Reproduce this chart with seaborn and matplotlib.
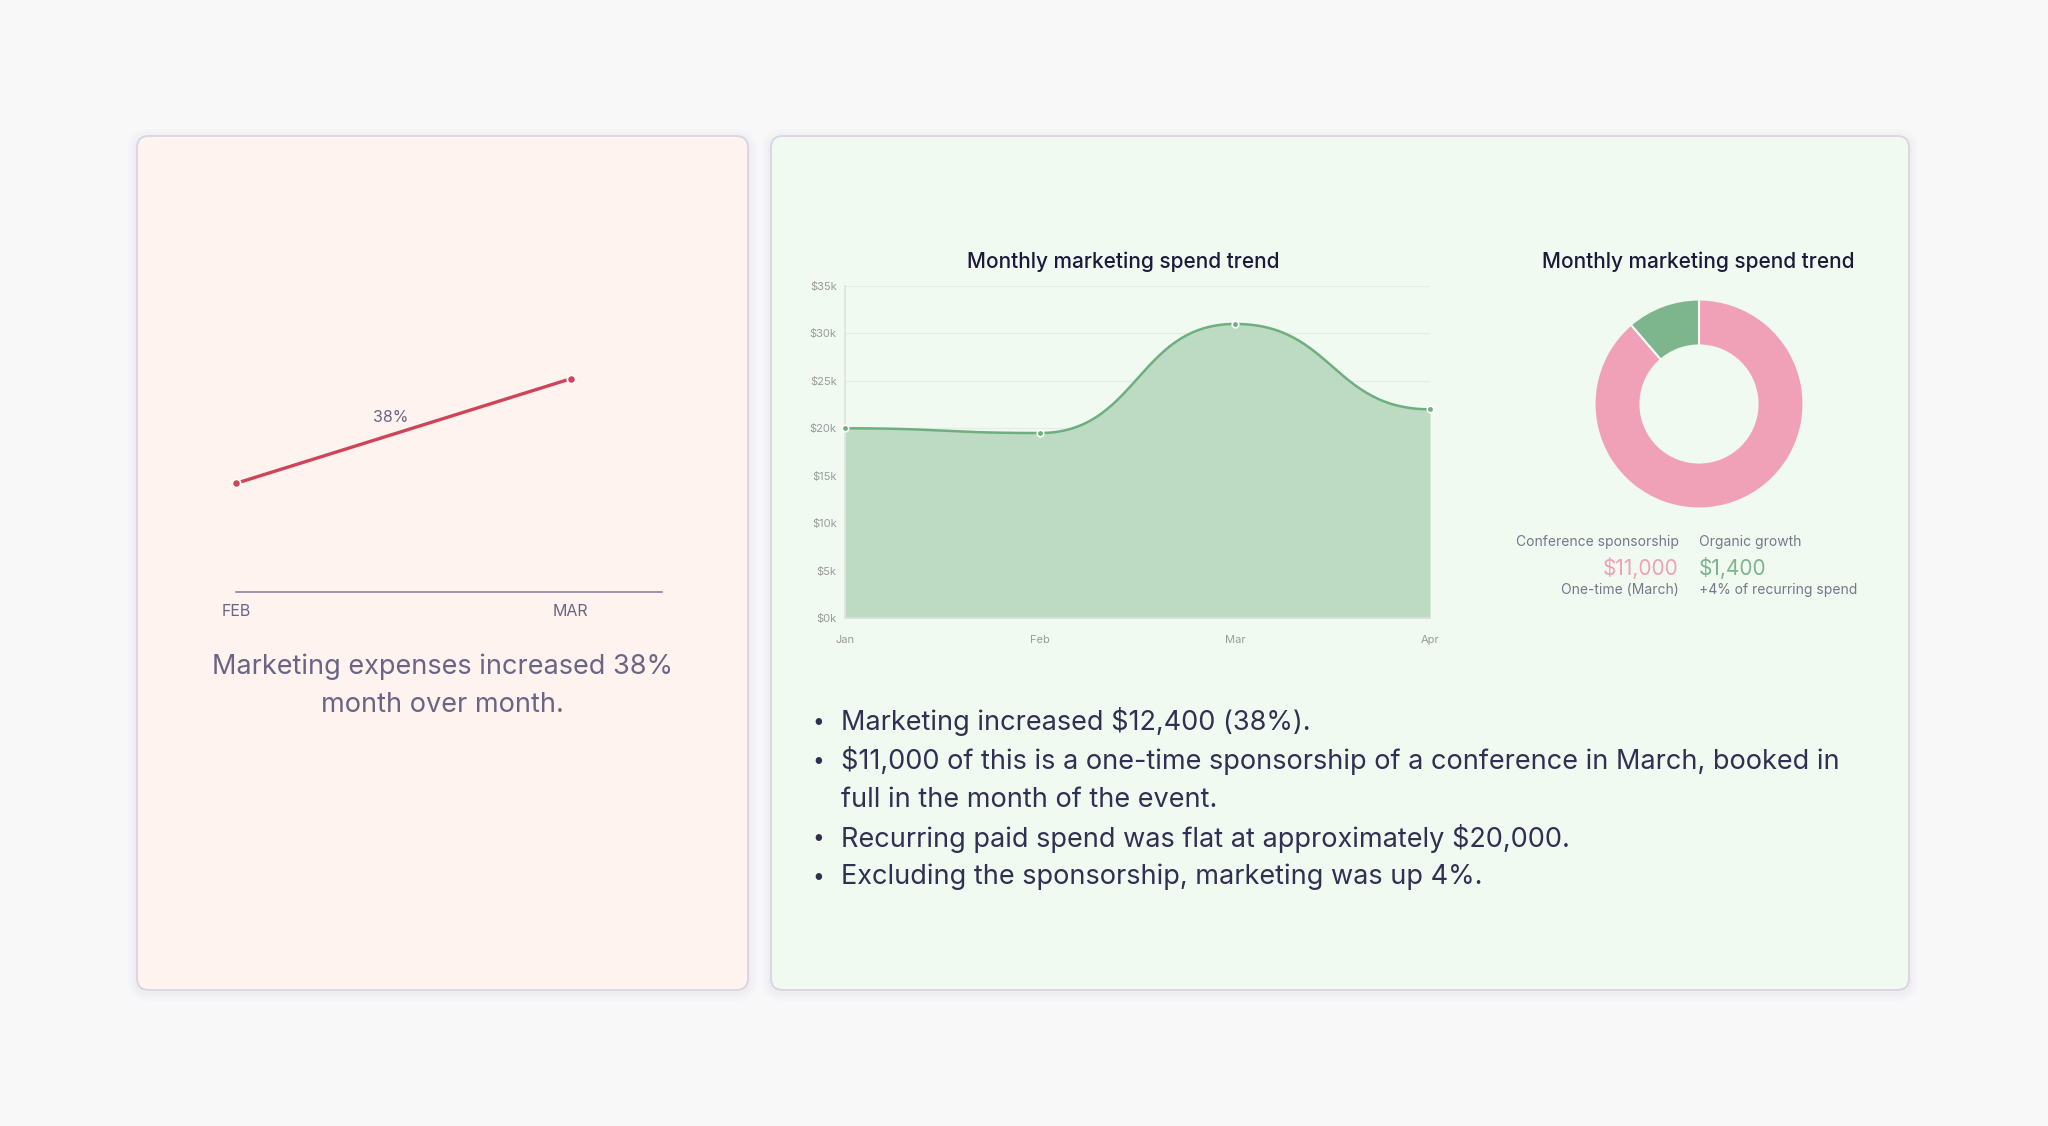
import numpy as np
import pandas as pd
import seaborn as sns
import matplotlib.pyplot as plt
from matplotlib.patches import FancyBboxPatch

# ---------------- data ----------------
mom_months = ["FEB", "MAR"]
mom_spend = [32600, 45000]
mom_change = "38%"

trend_months = ["Jan", "Feb", "Mar", "Apr"]
trend_spend = [20000, 19500, 31000, 22000]
trend_ticks = [0, 5000, 10000, 15000, 20000, 25000, 30000, 35000]

split_labels = ["Conference sponsorship", "Organic growth"]
split_values = [11000, 1400]
split_notes = ["One-time (March)", "+4% of recurring spend"]

bullets = [
    ["Marketing increased $12,400 (38%)."],
    ["$11,000 of this is a one-time sponsorship of a conference in March, booked in",
     "full in the month of the event."],
    ["Recurring paid spend was flat at approximately $20,000."],
    ["Excluding the sponsorship, marketing was up 4%."],
]

# ---------------- style ----------------
sns.set_theme(style="white")
plt.rcParams['font.family'] = ['Inter', 'DejaVu Sans']
W, H = 2048, 1126
BG = "#f8f8f9"
PINK_BG = "#fff3ef"
GREEN_BG = "#f1faf1"
BORDER = "#d9d4e1"
MUTED = "#6b6585"
DARK = "#312f52"
RED = "#d0445a"
GREEN_LINE = "#6fae7e"
GREEN_FILL = "#bcdbc2"
PINK = "#f0a1b8"
GREEN = "#7db68c"

fig = plt.figure(figsize=(W / 100, H / 100), dpi=100, facecolor=BG)

# background canvas in pixel coordinates
bg = fig.add_axes([0, 0, 1, 1])
bg.set_xlim(0, W)
bg.set_ylim(H, 0)
bg.axis("off")


def card(x0, y0, x1, y1, color):
    for i, a in enumerate([0.025, 0.02, 0.015]):
        pad = 3 * (i + 1)
        bg.add_patch(FancyBboxPatch((x0 - pad, y0 - pad + 2), x1 - x0 + 2 * pad, y1 - y0 + 2 * pad,
                                    boxstyle="round,pad=0,rounding_size=%d" % (12 + pad),
                                    fc="#6b6585", ec="none", alpha=a))
    bg.add_patch(FancyBboxPatch((x0, y0), x1 - x0, y1 - y0,
                                boxstyle="round,pad=0,rounding_size=12",
                                fc=color, ec=BORDER, lw=1.3))


card(137, 136, 748, 990, PINK_BG)
card(771, 136, 1909, 990, GREEN_BG)


def px_axes(x0, y0, x1, y1):
    return fig.add_axes([x0 / W, 1 - y1 / H, (x1 - x0) / W, (y1 - y0) / H])


# ---------------- left: month over month line ----------------
ax1 = px_axes(236.4, 339.6, 662.2, 591.7)
ax1.patch.set_alpha(0)
mom = pd.DataFrame({"x": [0, 1], "spend": mom_spend})
sns.lineplot(data=mom, x="x", y="spend", ax=ax1, color=RED, lw=2.4,
             marker="o", markersize=6, markeredgecolor="white", markeredgewidth=1.3,
             clip_on=False)
ax1.set_xlim(0, 1.273)
ax1.set_ylim(19730, 49640)
ax1.set_xticks([0, 1])
ax1.set_xticklabels(mom_months, color=MUTED, fontsize=11.5)
ax1.get_xticklabels()[0].set_x(0.01)
ax1.set_yticks([])
ax1.tick_params(axis="x", length=0, pad=9)
for s in ["top", "right", "left"]:
    ax1.spines[s].set_visible(False)
ax1.spines["bottom"].set_color("#8a84a0")
ax1.spines["bottom"].set_linewidth(1.2)
ax1.set_xlabel("")
ax1.set_ylabel("")
bg.text(390.5, 417, mom_change, ha="center", va="center", color=MUTED, fontsize=11.5)
bg.text(442.7, 667, "Marketing expenses increased 38%", ha="center", va="center",
        color=MUTED, fontsize=19.5)
bg.text(442.7, 705, "month over month.", ha="center", va="center",
        color=MUTED, fontsize=19.5)

# ---------------- right: area trend ----------------
ax2 = px_axes(845, 286, 1430, 618)
ax2.patch.set_alpha(0)
xi = np.arange(len(trend_spend))
# bump-style smoothing between neighbouring months (horizontal tangents)
tt = np.linspace(0, 1, 60)
sx, sy = [], []
for i in range(len(trend_spend) - 1):
    x0, x1 = xi[i], xi[i + 1]
    y0, y1 = trend_spend[i], trend_spend[i + 1]
    h = x1 - x0
    bx = (1 - tt) ** 3 * x0 + 3 * (1 - tt) ** 2 * tt * (x0 + h / 2) + 3 * (1 - tt) * tt ** 2 * (x1 - h / 2) + tt ** 3 * x1
    by = (1 - tt) ** 3 * y0 + 3 * (1 - tt) ** 2 * tt * y0 + 3 * (1 - tt) * tt ** 2 * y1 + tt ** 3 * y1
    sx.extend(bx)
    sy.extend(by)
curve = pd.DataFrame({"x": sx, "y": sy})
ax2.fill_between(curve["x"], curve["y"], 0, color=GREEN_FILL, lw=0, zorder=1)
sns.lineplot(data=curve, x="x", y="y", ax=ax2, color=GREEN_LINE, lw=1.8, sort=False,
             estimator=None, zorder=2)
pts = pd.DataFrame({"x": xi, "y": trend_spend})
sns.scatterplot(data=pts, x="x", y="y", ax=ax2, color=GREEN_LINE, s=22,
                edgecolor="white", linewidth=1.2, zorder=3, clip_on=False)
ax2.set_xlim(0, len(trend_spend) - 1)
ax2.set_ylim(0, 35000)
ax2.set_xticks(xi)
ax2.set_xticklabels(trend_months)
ax2.set_yticks(trend_ticks)
ax2.set_yticklabels(["$%dk" % (v // 1000) for v in trend_ticks])
ax2.tick_params(axis="both", length=0, labelsize=8, labelcolor="#9a9a9a")
ax2.tick_params(axis="x", pad=12)
ax2.tick_params(axis="y", pad=6)
ax2.grid(axis="y", color="#e6ebe6", lw=0.9)
ax2.set_axisbelow(True)
for s in ["top", "right"]:
    ax2.spines[s].set_visible(False)
ax2.spines["left"].set_color("#dde3dd")
ax2.spines["bottom"].set_color("#dde3dd")
ax2.set_xlabel("")
ax2.set_ylabel("")
bg.text(1123, 262, "Monthly marketing spend trend", ha="center", va="center",
        color="#1b1a3a", fontsize=15, fontweight="medium")

# ---------------- right: donut ----------------
ax3 = px_axes(1594.5, 299.5, 1803.5, 508.5)
ax3.pie(split_values, colors=[PINK, GREEN], startangle=90, counterclock=False,
        radius=1, wedgeprops=dict(width=0.44, edgecolor=GREEN_BG, linewidth=1.5))
ax3.set_xlim(-1, 1)
ax3.set_ylim(-1, 1)
ax3.set_aspect("equal")
bg.text(1698, 262, "Monthly marketing spend trend", ha="center", va="center",
        color="#1b1a3a", fontsize=15, fontweight="medium")

for label, value, note, color, x, ha in [
    (split_labels[0], split_values[0], split_notes[0], PINK, 1679, "right"),
    (split_labels[1], split_values[1], split_notes[1], GREEN, 1699, "left"),
]:
    bg.text(x, 542, label, ha=ha, va="center", color="#77778a", fontsize=10)
    bg.text(x, 568, "${:,}".format(value), ha=ha, va="center", color=color, fontsize=15)
    bg.text(x, 590, note, ha=ha, va="center", color="#77778a", fontsize=10)

# ---------------- bullets ----------------
y = 722
for lines in bullets:
    bg.text(818, y, "•", ha="center", va="center", color=DARK, fontsize=15)
    for line in lines:
        bg.text(841, y, line, ha="left", va="center", color=DARK, fontsize=19.5)
        y += 38.8

fig.savefig("out.png", dpi=100, facecolor=BG)
